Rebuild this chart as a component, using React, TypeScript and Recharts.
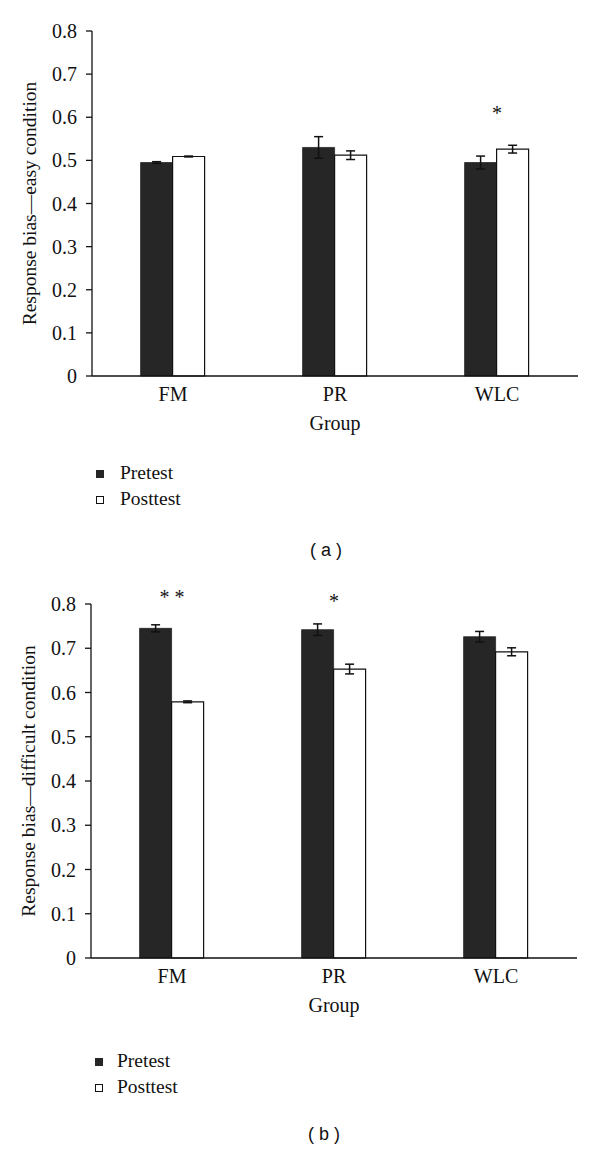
import React from 'react'
import { BarChart, Bar, XAxis, YAxis, ErrorBar, ReferenceDot } from 'recharts'

const groups = ['FM', 'PR', 'WLC']
const yTicks = [0, 0.1, 0.2, 0.3, 0.4, 0.5, 0.6, 0.7, 0.8]
const seriesNames = ['Pretest', 'Posttest']

// (a) easy condition
const pretestEasy = [0.495, 0.53, 0.495]
const pretestEasyErr = [0.002, 0.025, 0.015]
const posttestEasy = [0.509, 0.512, 0.526]
const posttestEasyErr = [0.001, 0.01, 0.009]
const easyMarks = ['', '', '*']
const easyMarkLevels = [0, 0, 0.615]

// (b) difficult condition
const pretestDifficult = [0.745, 0.742, 0.726]
const pretestDifficultErr = [0.008, 0.013, 0.012]
const posttestDifficult = [0.579, 0.653, 0.692]
const posttestDifficultErr = [0.002, 0.011, 0.009]
const difficultMarks = ['* *', '*', '']
const difficultMarkLevels = [0.82, 0.811, 0]

const SERIF = '"Liberation Serif", "Times New Roman", serif'
const SANS = '"Liberation Sans", Arial, sans-serif'
const INK = '#111111'
const DARK = '#262626'

function build(pre: number[], preErr: number[], post: number[], postErr: number[]) {
  return groups.map((g, i) => ({
    group: g,
    pretest: pre[i],
    preErr: preErr[i],
    posttest: post[i],
    postErr: postErr[i],
  }))
}

const tickStyle = { fontSize: 20, fill: INK, fontFamily: SERIF, style: { fontFamily: SERIF } }

function Panel({ top, height, margin, data, yTitle, marks, markLevels }: any) {
  return (
    <div style={{ position: 'absolute', left: 0, top, fontFamily: SERIF }}>
      <BarChart width={600} height={height} data={data} margin={margin} barCategoryGap="30%" barGap={0}>
        <XAxis
          dataKey="group"
          height={60}
          tickLine={false}
          axisLine={{ stroke: INK, strokeWidth: 1.3 }}
          tick={tickStyle}
          tickMargin={5}
          label={{ value: 'Group', position: 'insideBottom', offset: 6, fontSize: 20, fill: INK, fontFamily: SERIF }}
        />
        <YAxis
          width={72}
          domain={[0, 0.8]}
          ticks={yTicks}
          interval={0}
          tickFormatter={(v) => String(v)}
          axisLine={{ stroke: INK, strokeWidth: 1.3 }}
          tickLine={{ stroke: INK, strokeWidth: 1.3 }}
          tickSize={6}
          tickMargin={9}
          tick={tickStyle}
          label={{
            value: yTitle,
            angle: -90,
            position: 'insideLeft',
            offset: 9,
            fontSize: 19.5,
            fill: INK,
            fontFamily: SERIF,
            style: { textAnchor: 'middle' },
          }}
        />
        <Bar dataKey="pretest" name={seriesNames[0]} fill={DARK} stroke={DARK} strokeWidth={0.8} isAnimationActive={false}>
          <ErrorBar dataKey="preErr" width={4.5} strokeWidth={1.5} stroke={INK} isAnimationActive={false} />
        </Bar>
        <Bar dataKey="posttest" name={seriesNames[1]} fill="#ffffff" stroke={INK} strokeWidth={1.2} isAnimationActive={false}>
          <ErrorBar dataKey="postErr" width={4.5} strokeWidth={1.5} stroke={INK} isAnimationActive={false} />
        </Bar>
        {marks.map((m: string, i: number) =>
          m ? (
            <ReferenceDot
              key={i}
              x={groups[i]}
              y={markLevels[i]}
              ifOverflow="visible"
              shape={(p: any) => (
                <text x={p.cx} y={p.cy + 9} textAnchor="middle" fontSize={20} fill={INK} fontFamily={SERIF}>
                  {m}
                </text>
              )}
            />
          ) : null
        )}
      </BarChart>
    </div>
  )
}

function LegendAndCaption({ sqX, textX, base1, base2, caption, capX, capBase }: any) {
  return (
    <g>
      <rect x={sqX} y={base1 - 9} width={8} height={8} fill={DARK} />
      <text x={textX} y={base1} fontSize={19.5} fill={INK} fontFamily={SERIF}>{seriesNames[0]}</text>
      <rect x={sqX + 0.5} y={base2 - 8.5} width={7} height={7} fill="#fff" stroke={INK} strokeWidth={1} />
      <text x={textX} y={base2} fontSize={19.5} fill={INK} fontFamily={SERIF}>{seriesNames[1]}</text>
      <text x={capX} y={capBase} fontSize={18} fill={INK} fontFamily={SANS} textAnchor="middle">{caption}</text>
    </g>
  )
}

export default function App() {
  const easy = build(pretestEasy, pretestEasyErr, posttestEasy, posttestEasyErr)
  const difficult = build(pretestDifficult, pretestDifficultErr, posttestDifficult, posttestDifficultErr)
  return (
    <div style={{ position: 'absolute', left: 0, top: 0, width: 600, height: 1150, background: '#fff', fontFamily: SERIF }}>
      <Panel
        top={0}
        height={440}
        margin={{ top: 31, right: 22, left: 20, bottom: 4 }}
        data={easy}
        yTitle="Response bias—easy condition"
        marks={easyMarks}
        markLevels={easyMarkLevels}
      />
      <Panel
        top={570}
        height={452}
        margin={{ top: 34, right: 23, left: 19, bottom: 4 }}
        data={difficult}
        yTitle="Response bias—difficult condition"
        marks={difficultMarks}
        markLevels={difficultMarkLevels}
      />
      <svg width={600} height={1150} style={{ position: 'absolute', left: 0, top: 0, pointerEvents: 'none' }}>
        <LegendAndCaption sqX={96} textX={120} base1={479} base2={505} caption="( a )" capX={326} capBase={556} />
        <LegendAndCaption sqX={95} textX={117} base1={1067} base2={1093} caption="( b )" capX={324} capBase={1140} />
      </svg>
    </div>
  )
}
